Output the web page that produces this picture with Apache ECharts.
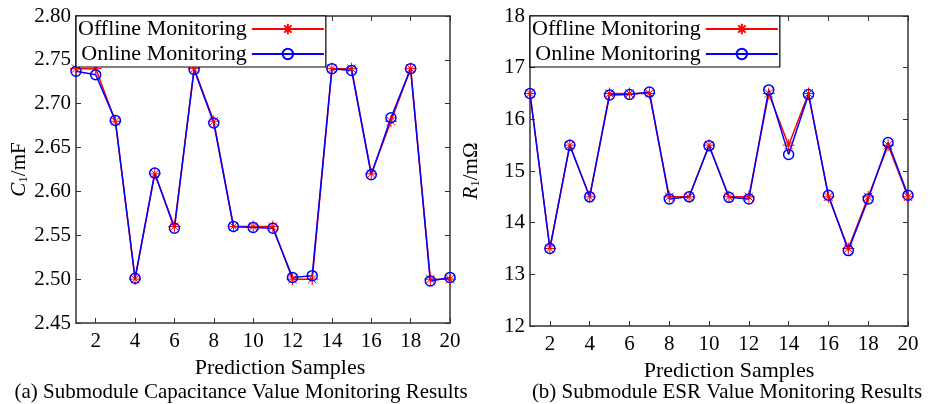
<!DOCTYPE html>
<head>
    <meta charset="UTF-8">
    <title>Submodule Monitoring Results</title>
    <script src="https://cdn.jsdelivr.net/npm/echarts@6/dist/echarts.min.js"></script>
    <style>
        body { margin: 0; background: #fff; }
        #main { width: 940px; height: 404px; }
    </style>
</head>
<body>
    <div id="main"></div>
    <script type="text/javascript">
        var samples = ['1','2','3','4','5','6','7','8','9','10','11','12','13','14','15','16','17','18','19','20'];

        // capacitance C1 (mF)
        var capOffline = [2.740, 2.740, 2.680, 2.500, 2.620, 2.560, 2.740, 2.680, 2.560, 2.560,
                          2.560, 2.500, 2.500, 2.740, 2.740, 2.620, 2.680, 2.740, 2.500, 2.500];
        var capOnline  = [2.737, 2.733, 2.681, 2.501, 2.621, 2.558, 2.739, 2.678, 2.560, 2.559,
                          2.558, 2.502, 2.504, 2.740, 2.738, 2.619, 2.684, 2.740, 2.498, 2.502];

        // ESR R1 (mOhm)
        var esrOffline = [16.50, 13.50, 15.50, 14.50, 16.50, 16.50, 16.50, 14.50, 14.50, 15.50,
                          14.50, 14.50, 16.50, 15.50, 16.50, 14.50, 13.50, 14.50, 15.50, 14.50];
        var esrOnline  = [16.50, 13.50, 15.50, 14.50, 16.47, 16.48, 16.53, 14.46, 14.50, 15.49,
                          14.49, 14.46, 16.57, 15.32, 16.48, 14.53, 13.46, 14.46, 15.55, 14.53];

        var font = '"Liberation Serif", "DejaVu Serif", serif';
        var axisColor = '#333';
        var star = 'path://M5,0L5,10M0,5L10,5M1.5,1.5L8.5,8.5M1.5,8.5L8.5,1.5';
        var evenOnly = function (idx) { return idx % 2 === 1; };

        function xAxes(gi, gap, shift) {
            var base = {
                type: 'category', gridIndex: gi, data: samples, boundaryGap: false,
                axisLine: { lineStyle: { color: axisColor, width: 1.5 } },
                axisTick: { inside: true, length: 5, interval: evenOnly, lineStyle: { color: axisColor } },
                splitLine: { show: false }
            };
            var bottom = Object.assign({}, base, {
                position: 'bottom',
                name: 'Prediction Samples', nameLocation: 'middle', nameGap: gap,
                nameTextStyle: { fontFamily: font, fontSize: 22, color: '#000', padding: [0, 0, 0, shift] },
                axisLabel: { interval: evenOnly, fontFamily: font, fontSize: 21, color: '#000', margin: 8 }
            });
            var top = Object.assign({}, base, { position: 'top', axisLabel: { show: false } });
            return [bottom, top];
        }

        function yAxes(gi, min, max, step, digits, nameRich, gap) {
            var base = {
                type: 'value', gridIndex: gi, min: min, max: max, interval: step,
                axisLine: { show: true, lineStyle: { color: axisColor, width: 1.5 } },
                axisTick: { show: true, inside: true, length: 5, lineStyle: { color: axisColor } },
                splitLine: { show: false }
            };
            var left = Object.assign({}, base, {
                position: 'left',
                name: nameRich, nameLocation: 'middle', nameGap: gap,
                nameTextStyle: {
                    fontFamily: font, fontSize: 21, color: '#000',
                    rich: {
                        it: { fontFamily: font, fontSize: 21, fontStyle: 'italic', color: '#000' },
                        sub: { fontFamily: font, fontSize: 13, color: '#000', verticalAlign: 'bottom', padding: [9, 0, 0, 0] },
                        n: { fontFamily: font, fontSize: 21, color: '#000' }
                    }
                },
                axisLabel: {
                    fontFamily: font, fontSize: 21, color: '#000', margin: 5,
                    formatter: function (v) { return v.toFixed(digits); }
                }
            });
            var right = Object.assign({}, base, { position: 'right', axisLabel: { show: false } });
            return [left, right];
        }

        function seriesPair(gi, off, on) {
            return [{
                name: 'Offline Monitoring', type: 'line', xAxisIndex: gi * 2, yAxisIndex: gi * 2,
                data: off, symbol: star, symbolSize: 12, showAllSymbol: true,
                lineStyle: { color: '#ff0000', width: 1.5 },
                itemStyle: { color: '#ff0000', borderColor: '#ff0000', borderWidth: 1 },
                emphasis: { disabled: true }, animation: false
            }, {
                name: 'Online Monitoring', type: 'line', xAxisIndex: gi * 2, yAxisIndex: gi * 2,
                data: on, symbol: 'circle', symbolSize: 10, showAllSymbol: true,
                lineStyle: { color: '#0000ff', width: 1.5 },
                itemStyle: { color: 'rgba(0,0,0,0)', borderColor: '#0000ff', borderWidth: 1.5 },
                emphasis: { disabled: true }, animation: false
            }];
        }

        function legendAt(left) {
            return {
                left: left, top: 16, orient: 'vertical', align: 'right',
                itemWidth: 72, itemHeight: 13, itemGap: 3,
                padding: [2, 1, 2, 2],
                backgroundColor: '#fff', borderColor: '#000', borderWidth: 1.2, borderRadius: 0,
                selectedMode: false,
                textStyle: { fontFamily: font, fontSize: 22, color: '#000' },
                data: ['Offline Monitoring', 'Online Monitoring']
            };
        }

        var chart = echarts.init(document.getElementById('main'), null, { renderer: 'canvas' });

        var xa = xAxes(0, 27, 34).concat(xAxes(1, 30, 20));
        var ya = yAxes(0, 2.45, 2.80, 0.05, 2, '{it|C}{sub|1}{n|/mF}', 44)
            .concat(yAxes(1, 12, 18, 1, 0, '{it|R}{sub|1}{n|/mΩ}', 48));
        // second axis of each pair belongs to the same grid
        xa[1].gridIndex = 0; xa[3].gridIndex = 1;
        ya[1].gridIndex = 0; ya[3].gridIndex = 1;

        chart.setOption({
            backgroundColor: '#fff',
            animation: false,
            grid: [
                { left: 76, right: 490, top: 16, bottom: 81 },
                { left: 530, right: 32, top: 16, bottom: 78 }
            ],
            xAxis: xa,
            yAxis: ya,
            legend: [
                Object.assign(legendAt(76), { seriesIndex: [0, 1] }),
                Object.assign(legendAt(530), { seriesIndex: [2, 3] })
            ],
            title: [
                { text: '(a) Submodule Capacitance Value Monitoring Results', left: 236, top: 377, textAlign: 'center',
                  textStyle: { fontFamily: font, fontSize: 21, fontWeight: 'normal', color: '#000' } },
                { text: '(b) Submodule ESR Value Monitoring Results', left: 722, top: 377, textAlign: 'center',
                  textStyle: { fontFamily: font, fontSize: 21, fontWeight: 'normal', color: '#000' } }
            ],
            series: seriesPair(0, capOffline, capOnline).concat(seriesPair(1, esrOffline, esrOnline))
        });
    </script>
</body>
</html>
